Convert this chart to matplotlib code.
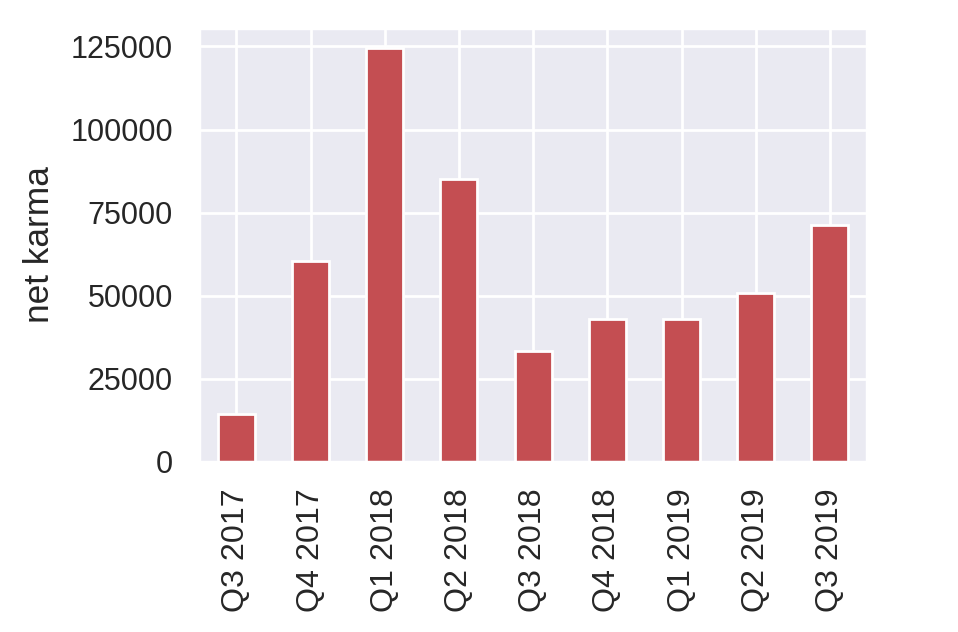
import pandas as pd
import seaborn as sns
import matplotlib
matplotlib.use("Agg")
import matplotlib.pyplot as plt

quarters = ['Q3 2017', 'Q4 2017', 'Q1 2018', 'Q2 2018', 'Q3 2018',
            'Q4 2018', 'Q1 2019', 'Q2 2019', 'Q3 2019']
net_karma = [14400, 60400, 124400, 85000, 33400, 43000, 43000, 50800, 71200]

sns.set(color_codes=True)
plt.rcParams['font.family'] = ['Liberation Sans', 'DejaVu Sans']

karma = pd.Series(net_karma, index=quarters)

fig, ax = plt.subplots(figsize=(4.79, 3.16), dpi=200)
fig.subplots_adjust(left=0.208, right=0.905, top=0.956, bottom=0.269)
karma.plot(kind='bar', color='r', ax=ax)
ax.set_ylabel('net karma', fontsize=12.7, labelpad=5)
ax.set_yticks([0, 25000, 50000, 75000, 100000, 125000])
ax.tick_params(axis='x', labelsize=11.6)

fig.savefig('out.png', dpi=200)
